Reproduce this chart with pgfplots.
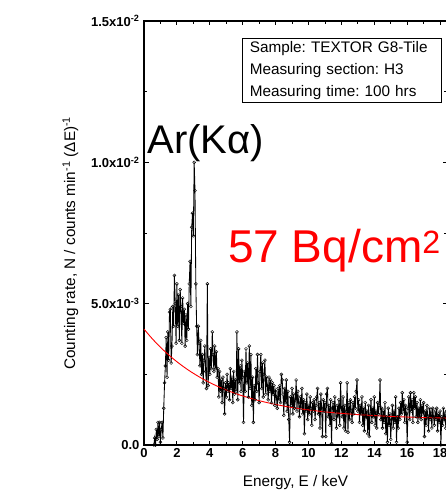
\documentclass[border=0pt]{standalone}
\usepackage{pgfplots}
\pgfplotsset{compat=1.18}
\usepackage{fontspec}
\setmainfont{Liberation Sans}
\begin{document}
\frenchspacing
\begin{tikzpicture}
\begin{axis}[
  scale only axis,
  width=303pt, height=424pt,
  xmin=0, xmax=18.42, ymin=0, ymax=15,
  xtick={0,2,4,6,8,10,12,14,16,18},
  xticklabels={0,2,4,6,8,10,12,14,16,18},
  minor x tick num=1,
  ytick={0,5,10,15},
  yticklabels={0.0, 5.0x10\textsuperscript{-3}, 1.0x10\textsuperscript{-2}, 1.5x10\textsuperscript{-2}},
  minor y tick num=1,
  tick label style={font=\fontsize{13}{15}\selectfont\bfseries},
  yticklabel style={xshift=-1pt},
  major tick length=4.5pt, minor tick length=3pt,
  tick style={black, line width=0.8pt},
  axis line style={line width=1.1pt},
  every axis y label/.style={at={(axis description cs:0,0.476)}, xshift=-73.5pt, rotate=90, anchor=center},
  every axis x label/.style={at={(axis description cs:0.5,0)}, yshift=-38pt, anchor=center},
  label style={font=\fontsize{15.3}{17}\selectfont},
  ylabel={Counting rate, N / counts min\textsuperscript{-1} (ΔE)\textsuperscript{-1}},
  xlabel={Energy, E / keV},
]
\addplot[black, line width=0.85pt, mark=o, mark size=1.5pt, mark options={black, fill=white, line width=0.45pt}] coordinates {
(0.60,0.00)(0.65,0.25)(0.70,0.00)(0.75,0.55)(0.80,0.20)(0.85,0.80)(0.90,0.30)(0.95,0.80)(1.00,0.10)(1.05,0.55)
(1.10,0.80)(1.15,0.25)(1.20,1.30)(1.25,2.20)(1.30,2.80)(1.35,3.80)(1.40,2.40)(1.45,4.00)(1.50,3.00)(1.55,4.70)
(1.60,4.80)(1.65,2.90)(1.70,3.50)(1.75,4.90)(1.80,4.20)(1.85,6.00)(1.90,5.00)(1.95,3.60)(2.00,5.70)(2.05,4.20)
(2.10,5.30)(2.15,3.70)(2.20,5.50)(2.25,4.90)(2.30,3.60)(2.35,5.20)(2.40,4.30)(2.45,4.80)(2.50,3.50)(2.55,4.60)
(2.60,3.70)(2.65,5.00)(2.70,4.10)(2.75,5.70)(2.80,6.50)(2.85,4.90)(2.90,7.70)(2.95,8.20)(3.00,7.40)(3.05,10.00)
(3.10,9.00)(3.15,5.70)(3.20,4.20)(3.25,3.20)(3.30,4.20)(3.35,3.60)(3.40,2.80)(3.45,3.70)(3.50,2.50)(3.55,3.20)
(3.60,2.20)(3.65,3.00)(3.70,3.50)(3.75,2.60)(3.80,2.00)(3.85,5.70)(3.90,2.10)(3.95,3.10)(4.00,2.50)(4.05,3.40)
(4.10,2.70)(4.15,4.00)(4.20,3.20)(4.25,2.60)(4.30,3.50)(4.35,2.70)(4.40,3.30)(4.45,2.40)(4.50,2.70)(4.55,1.70)
(4.60,2.60)(4.65,1.90)(4.70,2.30)(4.75,1.50)(4.80,2.40)(4.85,2.00)(4.90,1.10)(4.95,2.20)(5.00,1.70)(5.05,2.50)
(5.10,1.90)(5.15,2.20)(5.20,1.60)(5.25,2.70)(5.30,2.00)(5.35,2.40)(5.40,1.50)(5.45,2.60)(5.50,1.80)(5.55,2.30)
(5.60,1.90)(5.65,4.00)(5.70,1.60)(5.75,3.40)(5.80,2.20)(5.85,2.80)(5.90,1.90)(5.95,3.00)(6.00,2.40)(6.05,0.80)
(6.10,2.60)(6.15,1.90)(6.20,3.40)(6.25,2.20)(6.30,2.90)(6.35,1.70)(6.40,3.50)(6.45,2.00)(6.50,3.20)(6.55,1.40)
(6.60,2.40)(6.65,0.80)(6.70,2.10)(6.75,1.60)(6.80,2.70)(6.85,1.90)(6.90,3.20)(6.95,2.20)(7.00,1.50)(7.05,2.60)
(7.10,3.20)(7.15,2.00)(7.20,2.90)(7.25,1.70)(7.30,2.50)(7.35,3.00)(7.40,1.80)(7.45,2.40)(7.50,2.10)(7.55,1.60)
(7.60,2.40)(7.65,1.90)(7.70,2.30)(7.75,1.50)(7.80,2.20)(7.85,1.80)(7.90,2.10)(7.95,1.40)(8.00,1.90)(8.05,1.70)
(8.10,1.30)(8.15,2.00)(8.20,1.60)(8.25,2.10)(8.30,1.50)(8.35,2.50)(8.40,2.30)(8.45,1.80)(8.50,1.05)(8.55,2.00)
(8.60,1.50)(8.65,2.30)(8.70,1.20)(8.75,1.90)(8.80,0.90)(8.85,0.10)(8.90,1.70)(8.95,1.40)(9.00,2.00)(9.05,1.10)
(9.10,1.80)(9.15,1.30)(9.20,1.60)(9.25,2.30)(9.30,1.20)(9.35,1.90)(9.40,1.50)(9.45,1.00)(9.50,1.70)(9.55,1.30)
(9.60,2.00)(9.65,1.10)(9.70,1.60)(9.75,0.40)(9.80,1.50)(9.85,1.20)(9.90,1.80)(9.95,0.90)(10.00,1.40)(10.05,1.10)
(10.10,1.70)(10.15,1.30)(10.20,0.70)(10.25,1.50)(10.30,1.20)(10.35,1.60)(10.40,0.90)(10.45,1.40)(10.50,1.70)(10.55,2.00)
(10.60,1.10)(10.65,1.50)(10.70,0.60)(10.75,1.80)(10.80,1.30)(10.85,0.30)(10.90,1.60)(10.95,1.20)(11.00,1.50)(11.05,0.30)
(11.10,1.80)(11.15,2.00)(11.20,1.00)(11.25,1.40)(11.30,0.70)(11.35,1.60)(11.40,0.05)(11.45,1.30)(11.50,1.50)(11.55,0.90)
(11.60,1.70)(11.65,1.20)(11.70,0.60)(11.75,1.40)(11.80,1.00)(11.85,1.60)(11.90,0.70)(11.95,2.20)(12.00,1.30)(12.05,1.00)
(12.10,1.70)(12.15,0.60)(12.20,1.40)(12.25,0.50)(12.30,1.20)(12.35,2.20)(12.40,0.45)(12.45,1.50)(12.50,0.90)(12.55,1.60)
(12.60,1.20)(12.65,0.80)(12.70,1.50)(12.75,1.10)(12.80,1.70)(12.85,1.30)(12.90,1.90)(12.95,2.30)(13.00,1.20)(13.05,1.60)
(13.10,0.80)(13.15,1.40)(13.20,1.10)(13.25,1.70)(13.30,0.70)(13.35,1.30)(13.40,0.50)(13.45,1.50)(13.50,1.00)(13.55,1.20)
(13.60,0.40)(13.65,1.40)(13.70,0.30)(13.75,1.10)(13.80,1.60)(13.85,0.80)(13.90,1.30)(13.95,1.00)(14.00,1.70)(14.05,0.70)
(14.10,1.20)(14.15,0.60)(14.20,1.50)(14.25,1.10)(14.30,1.40)(14.35,2.30)(14.40,0.90)(14.45,1.30)(14.50,0.60)(14.55,1.20)
(14.60,0.80)(14.65,1.50)(14.70,0.40)(14.75,1.00)(14.80,0.10)(14.85,1.30)(14.90,0.70)(14.95,1.10)(15.00,0.20)(15.05,0.90)
(15.10,1.40)(15.15,0.60)(15.20,1.20)(15.25,0.80)(15.30,1.70)(15.35,0.10)(15.40,1.00)(15.45,0.60)(15.50,1.30)(15.55,0.90)
(15.60,1.50)(15.65,1.10)(15.70,1.85)(15.75,1.20)(15.80,1.60)(15.85,0.80)(15.90,1.40)(15.95,1.10)(16.00,0.10)(16.05,1.30)
(16.10,1.70)(16.15,0.90)(16.20,1.85)(16.25,1.20)(16.30,1.60)(16.35,0.80)(16.40,1.85)(16.45,1.30)(16.50,1.70)(16.55,1.00)
(16.60,1.50)(16.65,0.80)(16.70,1.30)(16.75,1.00)(16.80,1.60)(16.85,0.90)(16.90,1.40)(16.95,1.10)(17.00,1.50)(17.05,0.30)
(17.10,1.20)(17.15,0.70)(17.20,1.40)(17.25,1.00)(17.30,0.50)(17.35,1.30)(17.40,0.90)(17.45,1.20)(17.50,0.60)(17.55,1.30)
(17.60,1.00)(17.65,0.70)(17.70,1.20)(17.75,0.90)(17.80,1.30)(17.85,0.50)(17.90,1.10)(17.95,0.80)(18.00,1.20)(18.05,0.00)
(18.10,1.00)(18.15,0.70)(18.20,1.30)(18.25,0.90)(18.30,1.10)(18.35,0.60)(18.40,1.20)(18.45,0.80)
};
\addplot[red, line width=0.9pt, smooth, no markers] coordinates {
(0,4.100)(0.5,3.761)(1,3.458)(1.5,3.188)(2,2.946)(2.5,2.729)(3,2.536)(3.5,2.362)(4,2.208)(4.5,2.069)
(5,1.945)(5.5,1.835)(6,1.736)(6.5,1.648)(7,1.568)(7.5,1.498)(8,1.434)(8.5,1.378)(9,1.327)(9.5,1.282)
(10,1.242)(11,1.173)(12,1.119)(13,1.075)(14,1.040)(15,1.012)(16,0.989)(17,0.971)(18,0.957)(18.5,0.951)
};
\node[anchor=base west, font=\fontsize{40}{44}\selectfont, inner sep=0pt] at (axis cs:0.2,10.33) {Ar(Kα)};
\node[anchor=base west, font=\fontsize{46}{50}\selectfont, text=red, inner sep=0pt] at (axis cs:5.1,6.47) {57 Bq/cm\textsuperscript{2}};
\node[anchor=north west, draw=black, line width=0.6pt, fill=white, align=left, text width=184pt, inner xsep=7.5pt, inner ysep=3pt, font=\fontsize{15.3}{22}\selectfont] at (axis cs:5.96,14.40) {Sample: TEXTOR G8-Tile\\Measuring section: H3\\Measuring time: 100 hrs};
\end{axis}
\pgfresetboundingbox
\useasboundingbox (-144pt,-47pt) rectangle (301pt,445pt);
\end{tikzpicture}
\end{document}
